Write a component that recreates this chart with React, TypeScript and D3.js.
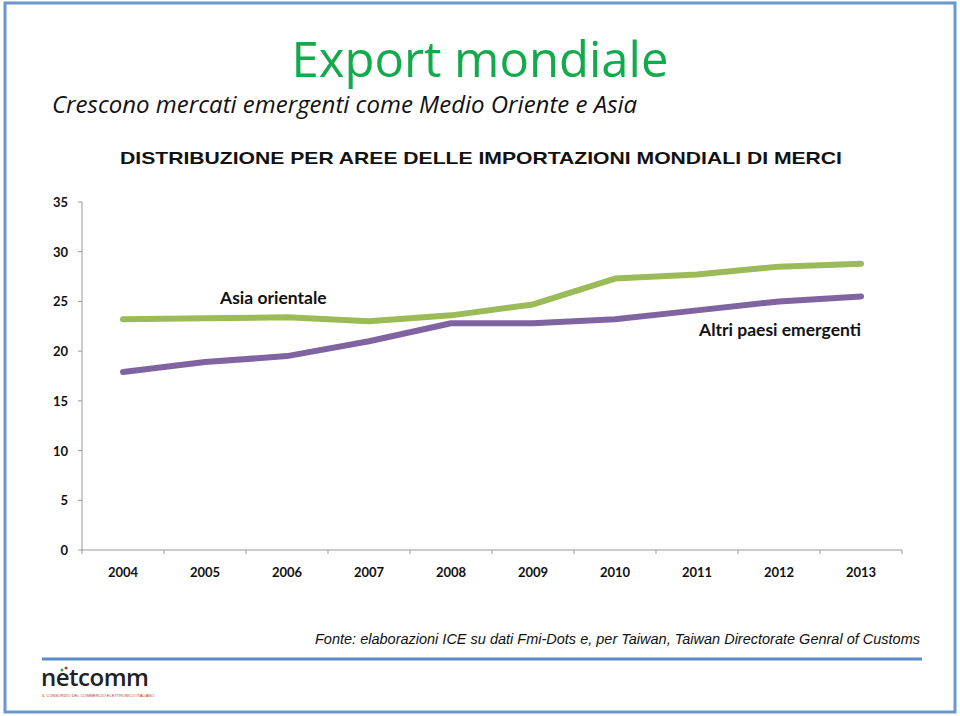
import React from "react";
import * as d3 from "d3";

const years = ["2004", "2005", "2006", "2007", "2008", "2009", "2010", "2011", "2012", "2013"];
const asiaOrientale = [23.2, 23.3, 23.4, 23.0, 23.6, 24.7, 27.3, 27.7, 28.5, 28.8];
const altriEmergenti = [17.9, 18.9, 19.5, 21.0, 22.8, 22.8, 23.2, 24.1, 25.0, 25.5];
const yTicks = [0, 5, 10, 15, 20, 25, 30, 35];

const W = 960;
const H = 716;
const left = 82;
const right = 902;
const top = 202;
const bottom = 550;

export default function App() {
  const x = d3.scaleBand<string>().domain(years).range([left, right]);
  const y = d3.scaleLinear().domain([0, 35]).range([bottom, top]);
  const line = d3
    .line<number>()
    .x((_, i) => (x(years[i]) as number) + x.bandwidth() / 2)
    .y((d) => y(d));
  const boundaries = years.map((yr) => x(yr) as number).concat([right]);
  const tickFont = "Lato, 'Open Sans', sans-serif";

  return (
    <svg
      width={W}
      height={H}
      style={{ position: "absolute", left: 0, top: 0, background: "#fff" }}
    >
      <rect x={5} y={3} width={950} height={709} fill="none" stroke="#6b98cc" strokeWidth={3} />
      <text
        x={480}
        y={77}
        textAnchor="middle"
        fontFamily="'Open Sans', Lato, sans-serif"
        fontSize={49}
        fill="#12aa4b"
      >
        Export mondiale
      </text>
      <text
        x={52}
        y={113}
        fontFamily="'Open Sans', Lato, sans-serif"
        fontStyle="italic"
        fontSize={24}
        fill="#111"
      >
        Crescono mercati emergenti come Medio Oriente e Asia
      </text>
      <text
        x={120}
        y={164}
        textLength={722}
        lengthAdjust="spacingAndGlyphs"
        fontFamily="'Liberation Sans', Arial, sans-serif"
        fontWeight="bold"
        fontSize={17}
        fill="#111"
      >
        DISTRIBUZIONE PER AREE DELLE IMPORTAZIONI MONDIALI DI MERCI
      </text>

      {/* y axis */}
      <line x1={left} x2={left} y1={top} y2={bottom} stroke="#999" strokeWidth={1} />
      {yTicks.map((t) => (
        <g key={t}>
          <line x1={left - 4} x2={left} y1={y(t)} y2={y(t)} stroke="#999" />
          <text
            x={68}
            y={y(t) + 5}
            textAnchor="end"
            fontFamily={tickFont}
            fontWeight="bold"
            fontSize={13}
            fill="#111"
          >
            {t}
          </text>
        </g>
      ))}

      {/* x axis */}
      <line x1={left} x2={right} y1={bottom} y2={bottom} stroke="#999" strokeWidth={1} />
      {boundaries.map((b, i) => (
        <line key={i} x1={b} x2={b} y1={bottom} y2={bottom + 4} stroke="#999" />
      ))}
      {years.map((yr) => (
        <text
          key={yr}
          x={(x(yr) as number) + x.bandwidth() / 2}
          y={577}
          textAnchor="middle"
          fontFamily={tickFont}
          fontWeight="bold"
          fontSize={13}
          fill="#111"
        >
          {yr}
        </text>
      ))}

      <path
        d={line(asiaOrientale) || ""}
        fill="none"
        stroke="#9bbb59"
        strokeWidth={6}
        strokeLinecap="round"
        strokeLinejoin="round"
      />
      <path
        d={line(altriEmergenti) || ""}
        fill="none"
        stroke="#8064a2"
        strokeWidth={6}
        strokeLinecap="round"
        strokeLinejoin="round"
      />

      <text x={220} y={304} fontFamily={tickFont} fontWeight="bold" fontSize={17.5} fill="#111">
        Asia orientale
      </text>
      <text
        x={861}
        y={336}
        textAnchor="end"
        fontFamily={tickFont}
        fontWeight="bold"
        fontSize={17.5}
        fill="#111"
      >
        Altri paesi emergenti
      </text>

      <text
        x={920}
        y={644}
        textAnchor="end"
        fontFamily="'Liberation Sans', Arial, sans-serif"
        fontStyle="italic"
        fontSize={14.5}
        fill="#111"
      >
        Fonte: elaborazioni ICE su dati Fmi-Dots e, per Taiwan, Taiwan Directorate Genral of Customs
      </text>
      <line x1={42} x2={922} y1={659} y2={659} stroke="#5b8bc9" strokeWidth={3} />

      <text x={41} y={686} fontFamily="'Open Sans', sans-serif" fontWeight="600" fontSize={24} fill="#222" letterSpacing={-0.5}>
        netcomm
      </text>
      <circle cx={62} cy={670} r={1.5} fill="#2aa84a" />
      <circle cx={66} cy={668} r={1.5} fill="#d42a2a" />
      <text x={42} y={697} fontFamily="'Liberation Sans', sans-serif" fontSize={4} fill="#c0392b">
        IL CONSORZIO DEL COMMERCIO ELETTRONICO ITALIANO
      </text>
    </svg>
  );
}
